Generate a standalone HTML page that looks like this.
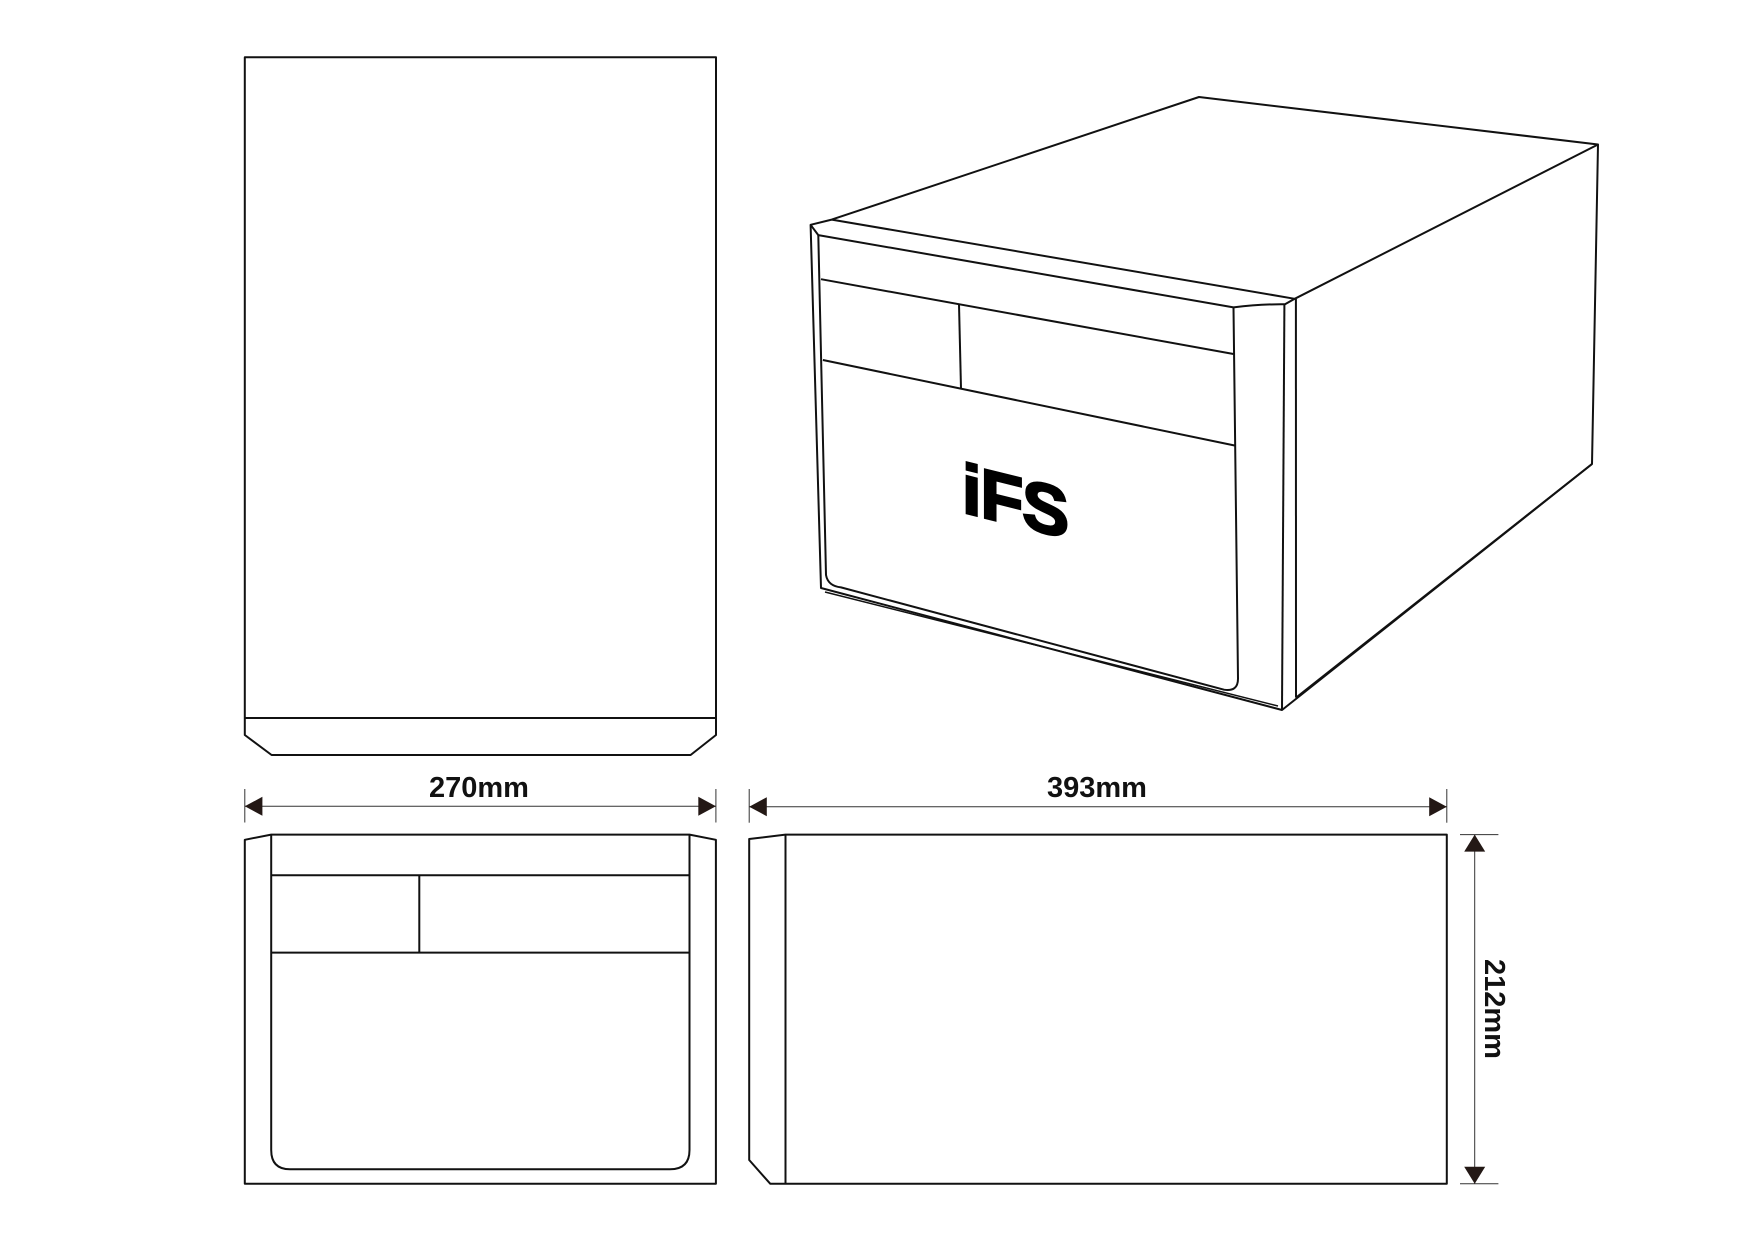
<!DOCTYPE html>
<html><head><meta charset="utf-8"><style>html,body{margin:0;padding:0;background:#fff}svg{display:block}</style></head>
<body>
<svg width="1754" height="1241" viewBox="0 0 1754 1241" xmlns="http://www.w3.org/2000/svg" font-family="Liberation Sans, Arial, sans-serif">
<g fill="none" stroke="#111" stroke-width="2" stroke-linejoin="round">
<!-- top view -->
<path d="M244.8 57.2 H716 V735 L690.6 755 H271.6 L244.8 735 Z"/>
<line x1="244.8" y1="718" x2="716" y2="718"/>

<!-- iso box -->
<path d="M810.6 224.8 L831.7 219.6 L1199 97 L1598 144.5 L1592 464 L1282 710 L821 588 Z"/>
<path d="M831.7 219.6 L1294.7 298.8 L1598 144.5"/>
<path d="M810.6 224.8 L818.3 235.1 L1233.5 307.4 Q1260 304 1285 304.3 L1294.7 298.8"/>
<line x1="1284.4" y1="304.3" x2="1282" y2="709.6"/>
<line x1="1295.9" y1="299" x2="1296" y2="697.6"/>
<line x1="1296" y1="697.6" x2="1592" y2="464"/>
<path d="M818.3 235.1 L826 575 Q828 586 841 587.4 L1224 689.7 Q1238 692 1238 678.6 L1233.5 307.4"/>
<line x1="821" y1="279.2" x2="1233.5" y2="354"/>
<line x1="822.9" y1="360" x2="1234.6" y2="445.5"/>
<line x1="959" y1="304.3" x2="961" y2="388.7"/>
<line x1="825" y1="592" x2="1278" y2="706" stroke-width="1.5"/>

<!-- front view -->
<path d="M244.8 839.8 L271.2 834.6 H689.5 L715.9 839.8 V1183.8 H244.8 Z"/>
<path d="M271.2 834.6 V1150 Q271.2 1169.3 290 1169.3 H670 Q689.5 1169.3 689.5 1150 V834.6"/>
<line x1="271.2" y1="875.3" x2="689.5" y2="875.3"/>
<line x1="271.2" y1="952.6" x2="689.5" y2="952.6"/>
<line x1="419.3" y1="875.3" x2="419.3" y2="952.6"/>

<!-- side view -->
<path d="M749.2 839 L785.5 834.6 H1446.8 V1183.7 H770.2 L749.2 1160 Z"/>
<line x1="785.5" y1="834.6" x2="785.5" y2="1183.7"/>
</g>

<!-- dimensions -->
<g stroke="#333" stroke-width="1" fill="#231815">
<line x1="244.8" y1="789" x2="244.8" y2="822.5"/>
<line x1="715.9" y1="789" x2="715.9" y2="822.5"/>
<line x1="244.8" y1="806.3" x2="715.9" y2="806.3"/>
<path d="M244.8 806.3 L262.4 796.8 L262.4 815.8 Z" stroke="none"/>
<path d="M715.9 806.3 L698.3 796.8 L698.3 815.8 Z" stroke="none"/>

<line x1="749.2" y1="789" x2="749.2" y2="822.7"/>
<line x1="1446.8" y1="789" x2="1446.8" y2="822.7"/>
<line x1="749.2" y1="806.7" x2="1446.8" y2="806.7"/>
<path d="M749.2 806.7 L766.8 797.2 L766.8 816.2 Z" stroke="none"/>
<path d="M1446.8 806.7 L1429.2 797.2 L1429.2 816.2 Z" stroke="none"/>

<line x1="1460" y1="834.6" x2="1498.4" y2="834.6"/>
<line x1="1460" y1="1183.7" x2="1498.4" y2="1183.7"/>
<line x1="1474.7" y1="834.6" x2="1474.7" y2="1183.7"/>
<path d="M1474.7 834.6 L1464.2 851.6 L1485.2 851.6 Z" stroke="none"/>
<path d="M1474.7 1183.7 L1464.2 1166.7 L1485.2 1166.7 Z" stroke="none"/>
</g>

<g fill="#111" font-weight="bold" font-size="29">
<text x="479" y="797" text-anchor="middle">270mm</text>
<text x="1097" y="797" text-anchor="middle">393mm</text>
<text transform="translate(1485,1009) rotate(90)" text-anchor="middle">212mm</text>
</g>
<text transform="translate(962,512) skewY(14)" font-size="70" font-weight="bold" fill="#000" stroke="#000" stroke-width="2.5" letter-spacing="-1">iFS</text>
</svg>
</body></html>
